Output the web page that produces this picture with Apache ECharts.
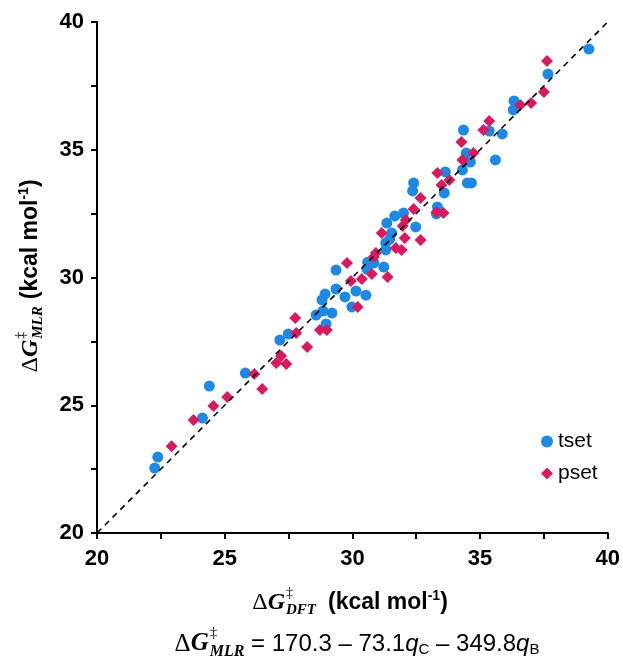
<!DOCTYPE html>
<html>
<head>
<meta charset="utf-8">
<script src="https://cdn.jsdelivr.net/npm/echarts@6/dist/echarts.min.js"></script>
<style>html,body{margin:0;padding:0;background:#fff}#c{width:623px;height:662px}</style>
</head>
<body>
<div id="c"></div>
<script>
// ---- data ----
const tsetDFT = [22.26,22.38,24.13,24.40,25.81,27.16,27.49,28.58,28.85,28.97,28.81,28.93,29.20,29.36,29.36,29.71,29.98,30.14,30.53,30.60,30.84,30.57,31.23,31.31,31.31,31.54,31.46,31.35,31.66,32.00,32.48,32.40,32.36,33.33,33.29,33.64,33.60,34.50,34.66,34.31,34.62,34.46,34.35,35.60,35.87,35.36,36.33,36.30,37.66,39.26];
const tsetMLR = [22.54,22.97,24.50,25.75,26.26,27.55,27.79,28.53,28.69,28.18,29.12,29.35,28.61,29.55,30.29,29.24,28.85,29.47,29.31,30.60,30.57,30.33,30.41,31.08,31.35,31.74,31.50,32.13,32.41,32.52,31.98,33.70,33.39,32.76,32.49,34.13,33.31,33.70,33.70,34.21,34.52,34.87,35.77,34.60,35.62,35.73,36.91,36.56,37.96,38.94];
const psetDFT = [22.92,23.78,24.56,25.10,26.16,26.47,27.02,27.21,27.41,27.76,27.80,28.23,28.73,29.00,29.79,29.94,30.37,30.21,30.76,30.92,30.84,31.38,31.15,31.70,31.93,32.05,31.97,32.09,32.67,32.40,32.67,33.30,33.57,33.33,33.49,33.80,34.27,34.31,34.74,35.13,35.36,36.57,37.00,37.50,37.62];
const psetMLR = [23.40,24.42,24.97,25.32,26.22,25.64,26.65,26.93,26.61,28.41,27.83,27.28,27.95,27.95,30.57,29.86,29.94,28.85,30.14,30.96,30.80,30.02,31.74,31.15,31.08,31.55,32.02,32.25,31.47,32.68,33.11,32.56,32.52,34.09,33.62,33.82,35.30,34.60,34.87,35.77,36.13,36.75,36.83,37.26,38.47];
const parityLine = [[20,20],[40,40]];
const axisMin = 20, axisMax = 40, axisStep = 5;
const seriesNames = ['tset','pset'];

const zip = (a,b) => a.map((v,i) => [v, b[i]]);

// ---- text composition helper (layout only) ----
const mctx = document.createElement('canvas').getContext('2d');
function compose(parts, cx, cy, rotation) {
  let cursor = 0, prevStart = 0;
  const placed = [];
  parts.forEach(p => {
    mctx.font = p.font;
    const w = p.t ? mctx.measureText(p.t).width : 0;
    const start = p.stack ? prevStart : cursor;
    placed.push({t:p.t, font:p.font, x:start, dy:p.dy||0});
    prevStart = start;
    cursor = Math.max(cursor, start + w) + (p.gap||0);
  });
  const W = cursor;
  return {
    type:'group', x:cx, y:cy, rotation: rotation||0, silent:true,
    children: placed.filter(p => p.t).map(p => ({
      type:'text', x: p.x - W/2, y: p.dy,
      style:{text:p.t, font:p.font, fill:'#000', align:'left', verticalAlign:'middle'}
    }))
  };
}
const SERIF = '"Liberation Serif"';
const SANS = '"Liberation Sans"';
function dG(sub, size) {
  return [
    {t:'Δ', font:`${size}px ${SERIF}`},
    {t:'G', font:`italic bold ${size}px ${SERIF}`, gap:1},
    {t:'‡', font:`${Math.round(size*0.6)}px ${SERIF}`, dy:-size*0.42},
    {t:sub, font:`italic bold ${Math.round(size*0.62)}px ${SERIF}`, dy:size*0.3, stack:true}
  ];
}
const unitParts = (size) => [
  {t:'(kcal mol', font:`bold ${size}px ${SANS}`},
  {t:'-1', font:`bold ${Math.round(size*0.6)}px ${SANS}`, dy:-size*0.3},
  {t:')', font:`bold ${size}px ${SANS}`}
];

const xTitle = compose([...dG('DFT', 24), {t:'', font:'', gap:12}, ...unitParts(23)], 350, 603);
const yTitle = compose([...dG('MLR', 24), {t:'', font:'', gap:7}, ...unitParts(23)], 31, 276, Math.PI/2);
const eq = compose([
  ...dG('MLR', 25),
  {t:' = 170.3 – 73.1', font:`24px ${SANS}`},
  {t:'q', font:`italic 24px ${SANS}`},
  {t:'C', font:`15px ${SANS}`, dy:6},
  {t:' – 349.8', font:`24px ${SANS}`},
  {t:'q', font:`italic 24px ${SANS}`},
  {t:'B', font:`15px ${SANS}`, dy:6}
], 357, 644);

const axisCommon = {
  type:'value', min:axisMin, max:axisMax, interval:axisStep,
  axisLine:{show:true, onZero:false, lineStyle:{color:'#000', width:2}},
  axisTick:{show:true, inside:false, length:6, lineStyle:{color:'#000', width:2}},
  minorTick:{show:true, splitNumber:2, length:6, lineStyle:{color:'#000', width:2}},
  splitLine:{show:false},
  axisLabel:{color:'#000', fontWeight:'bold', fontSize:22, fontFamily:'Liberation Sans'}
};

const chart = echarts.init(document.getElementById('c'), null, {renderer:'canvas'});
chart.setOption({
  animation:false,
  backgroundColor:'#fff',
  grid:{left:97, right:13, top:22, bottom:129, containLabel:false},
  xAxis:Object.assign({}, axisCommon, {axisLabel:Object.assign({}, axisCommon.axisLabel, {margin:15})}),
  yAxis:Object.assign({}, axisCommon, {axisLabel:Object.assign({}, axisCommon.axisLabel, {margin:13})}),
  legend:{
    orient:'vertical', left:536, top:426, itemWidth:12, itemHeight:12, itemGap:11,
    textStyle:{fontSize:21, color:'#000', fontFamily:'Liberation Sans', lineHeight:18},
    data:[{name:seriesNames[0], icon:'circle'}, {name:seriesNames[1], icon:'diamond'}]
  },
  series:[
    {name:seriesNames[0], type:'scatter', symbol:'circle', symbolSize:11, itemStyle:{color:'#1E88E5', opacity:1}, data:zip(tsetDFT, tsetMLR), z:2},
    {name:seriesNames[1], type:'scatter', symbol:'diamond', symbolSize:12, itemStyle:{color:'#D81B60', opacity:1}, data:zip(psetDFT, psetMLR), z:3},
    {type:'line', data:parityLine, symbol:'none', silent:true, lineStyle:{color:'#000', width:1.6, type:[6,5]}, z:4}
  ],
  graphic:[xTitle, yTitle, eq]
});
</script>
</body>
</html>
